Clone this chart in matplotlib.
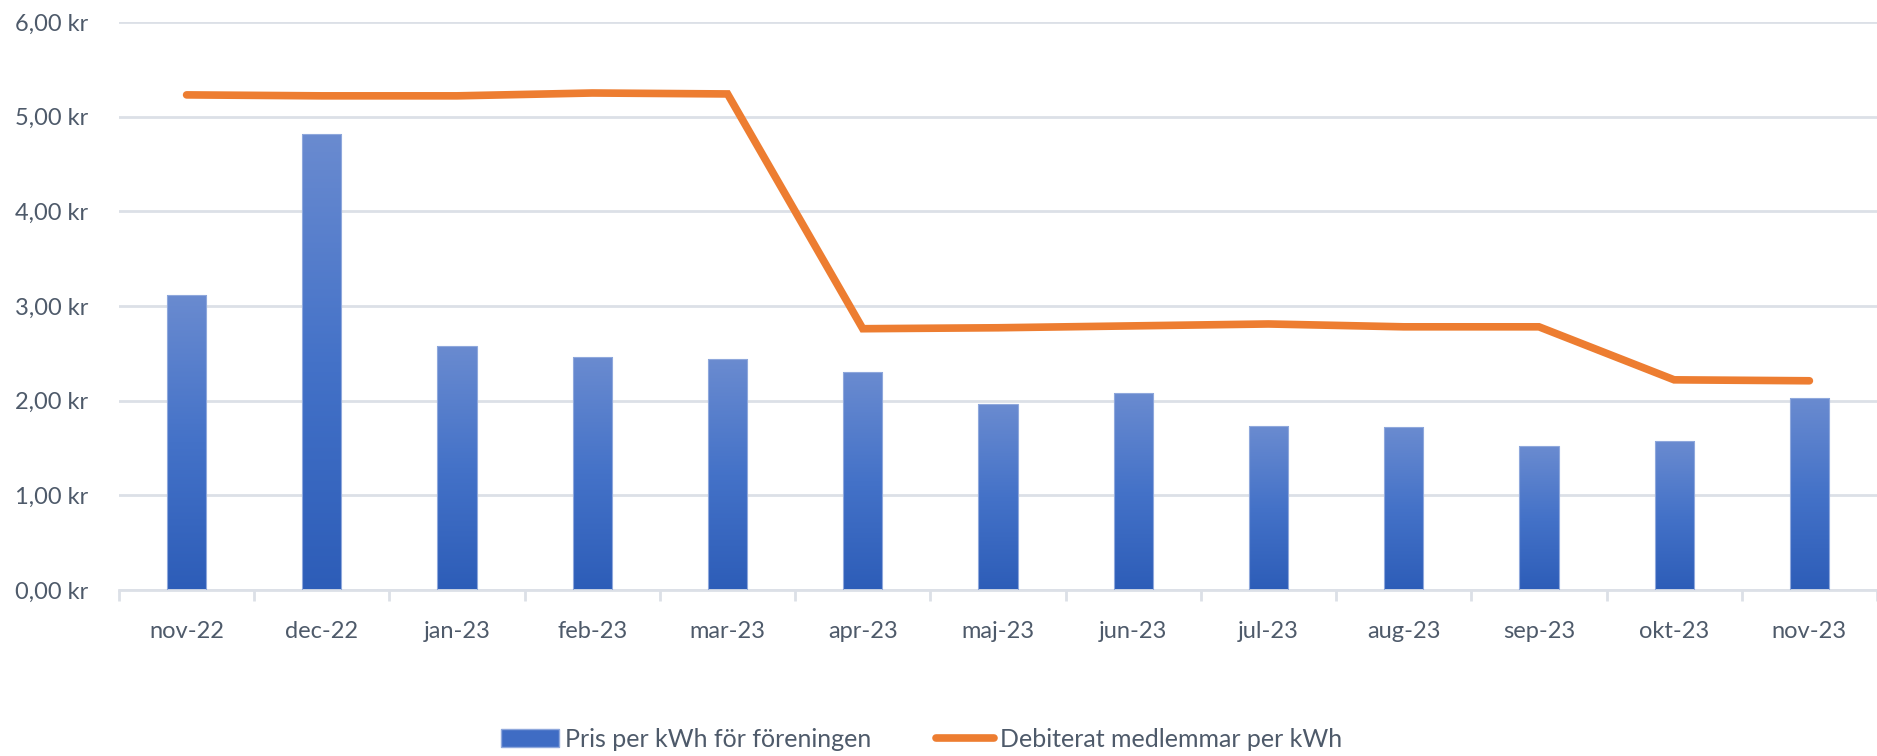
import numpy as np
import matplotlib
matplotlib.use('Agg')
import matplotlib.pyplot as plt
from matplotlib.colors import LinearSegmentedColormap
from matplotlib.patches import Patch
from matplotlib.lines import Line2D
import matplotlib.ticker as mticker

months = ['nov-22', 'dec-22', 'jan-23', 'feb-23', 'mar-23', 'apr-23', 'maj-23',
          'jun-23', 'jul-23', 'aug-23', 'sep-23', 'okt-23', 'nov-23']
pris = [3.12, 4.82, 2.58, 2.46, 2.44, 2.30, 1.96, 2.08, 1.73, 1.72, 1.52, 1.57, 2.03]
debiterat = [5.23, 5.22, 5.22, 5.25, 5.24, 2.76, 2.77, 2.79, 2.81, 2.78, 2.78, 2.22, 2.21]

plt.rcParams['font.family'] = ['Lato', 'DejaVu Sans']
txt_color = '#4E5A6A'
grid_color = '#DCE0E7'

fig = plt.figure(figsize=(18.77, 7.56), dpi=100)
ax = fig.add_axes([0.0634, 0.2196, 0.9366, 0.7513])

x = np.arange(len(months))
bars = ax.bar(x, pris, width=0.29, color='#4472C4', edgecolor='#8FA8DC', linewidth=0.8, zorder=2)

# gradient fill on each bar, lighter on top
cmap = LinearSegmentedColormap.from_list('grad', ['#2D5DB8', '#4472C8', '#6A8BD0'])
grad = np.linspace(0, 1, 256).reshape(-1, 1)
for b in bars:
    x0, y0 = b.get_x(), b.get_y()
    w, h = b.get_width(), b.get_height()
    im = ax.imshow(grad, cmap=cmap, origin='lower', aspect='auto',
                   extent=[x0, x0 + w, y0, y0 + h], zorder=2.5)
    im.set_clip_path(b)
    b.set_facecolor('none')
    b.set_zorder(3)

ax.plot(x, debiterat, color='#ED7D31', linewidth=5.5, solid_capstyle='round',
        solid_joinstyle='miter', zorder=4)

ax.set_xlim(-0.5, len(months) - 0.5)
ax.set_ylim(0, 6)
ax.set_yticks(np.arange(0, 7, 1))
ax.yaxis.set_major_formatter(mticker.FuncFormatter(lambda v, p: f'{v:.2f}'.replace('.', ',') + ' kr'))
ax.grid(axis='y', color=grid_color, linewidth=2, zorder=0)
ax.set_axisbelow(True)

ax.set_xticks(x)
ax.set_xticklabels(months)
ax.set_xticks(np.arange(-0.5, len(months)), minor=True)
ax.tick_params(axis='x', which='major', length=0, pad=22, labelsize=17, labelcolor=txt_color)
ax.tick_params(axis='x', which='minor', length=8, width=2, color=grid_color)
ax.tick_params(axis='y', length=0, pad=22, labelsize=17, labelcolor=txt_color)

for s in ['top', 'right', 'left']:
    ax.spines[s].set_visible(False)
ax.spines['bottom'].set_color(grid_color)
ax.spines['bottom'].set_linewidth(2)

handles = [Patch(facecolor='#3F6CC4', edgecolor='#8FA8DC', label='Pris per kWh för föreningen'),
           Line2D([0], [0], color='#ED7D31', linewidth=5.5, solid_capstyle='round',
                  label='Debiterat medlemmar per kWh')]
fig.legend(handles=handles, loc='center', bbox_to_anchor=(0.491, 0.022), ncol=2, frameon=False,
           fontsize=18, labelcolor=txt_color, handlelength=2.3, handletextpad=0.25,
           columnspacing=2.6)

fig.savefig('out.png', dpi=100)
